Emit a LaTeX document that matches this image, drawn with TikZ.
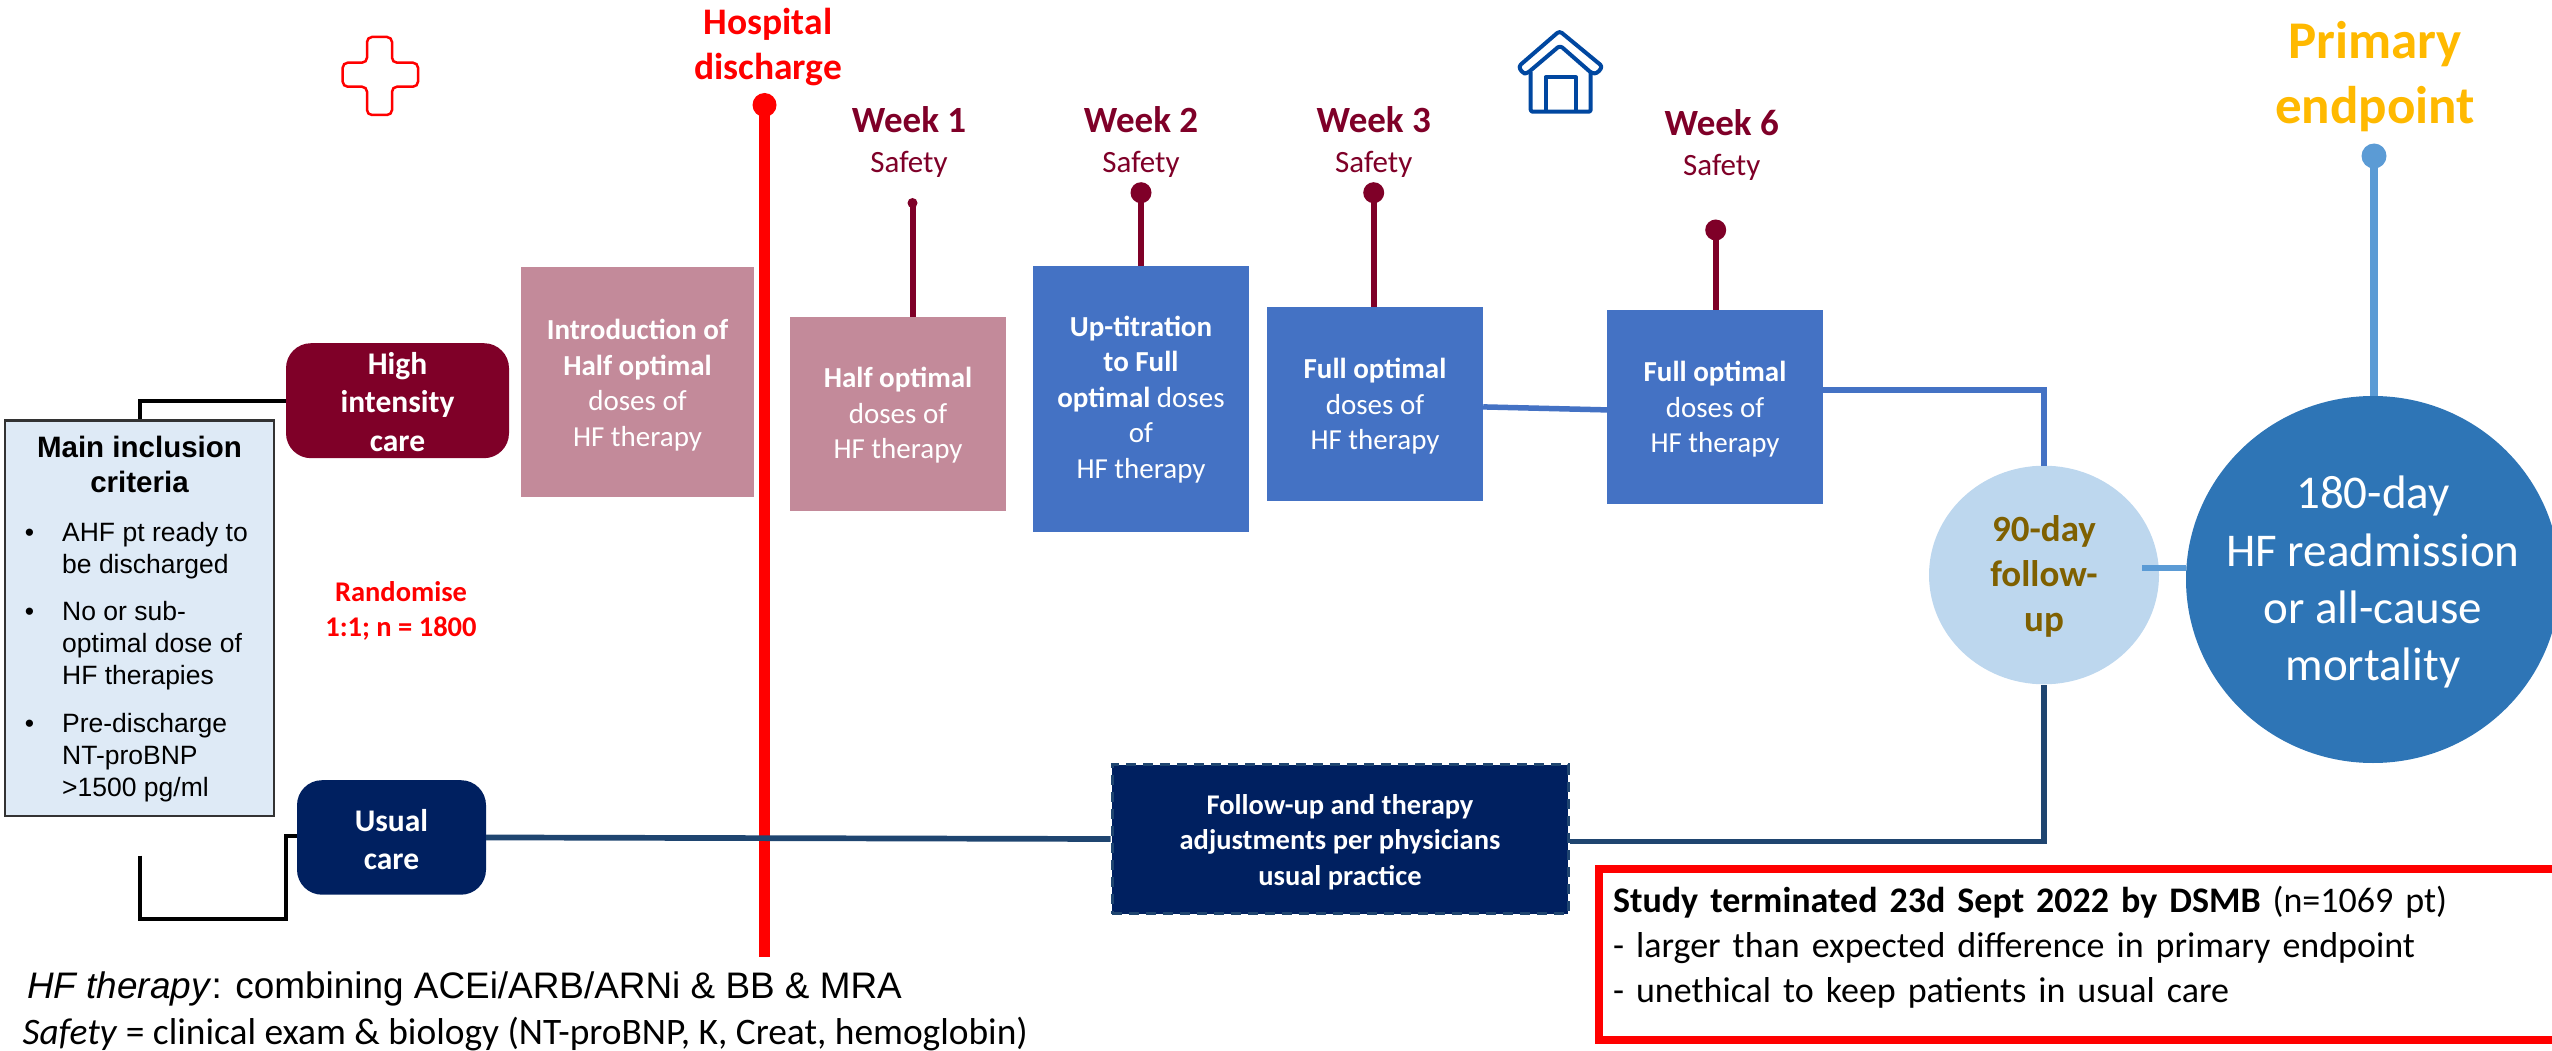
\documentclass[tikz,border=0pt]{standalone}
\usepackage{fontspec}
\setmainfont{Carlito}
\newfontfamily\arialf{Liberation Sans}
\usetikzlibrary{shapes.geometric}
\definecolor{maroon}{HTML}{7F0028}
\definecolor{pinkb}{HTML}{C38A9A}
\definecolor{blueb}{HTML}{4472C4}
\definecolor{navyb}{HTML}{002060}
\definecolor{navyl}{HTML}{1F4570}
\definecolor{lightb}{HTML}{DEEAF6}
\definecolor{skyb}{HTML}{5B9BD5}
\definecolor{paleb}{HTML}{BDD7EE}
\definecolor{bigb}{HTML}{2E75B6}
\definecolor{olive}{HTML}{7F6000}
\definecolor{gold}{HTML}{FFB900}
\definecolor{houseb}{HTML}{0047A0}
\newcommand{\fs}[2]{\fontsize{#1}{#2}\selectfont}
\tikzset{
  x=1pt,y=-1pt,
  box/.style={rectangle,inner sep=0pt,anchor=north,align=center,text=white},
  rbox/.style={box,rounded corners=25pt,fill=#1},
  txt/.style={inner sep=0pt,anchor=base,align=center},
  dot/.style={circle,inner sep=0pt,minimum size=#1},
  stalk/.style={line width=6pt,maroon},
  wk/.style={txt,text=maroon,font=\fs{37}{44}\bfseries},
  sf/.style={txt,text=maroon,font=\fs{31}{38}},
  cur/.style={font=\fs{29}{35.5}},
  bul/.style={inner sep=0pt,anchor=base west,align=left,font=\arialf\fs{26.5}{32}},
  icon/.style={line width=4pt,houseb,line join=round},
}
\begin{document}
\begin{tikzpicture}
\useasboundingbox (0,0) rectangle (2552,1051);
\clip (0,0) rectangle (2552,1051);

% cross icon
\draw[red,line width=2.5pt,rounded corners=5pt]
  (367,37) -- (392,37) -- (392,62.7) -- (418,62.7) -- (418,86.7) -- (392,86.7)
  -- (392,115) -- (367,115) -- (367,86.7) -- (342.7,86.7) -- (342.7,62.7) -- (367,62.7) -- cycle;

% house icon
\draw[icon,rounded corners=2pt] (1530.7,72) -- (1530.7,111.7) -- (1590.7,111.7) -- (1590.7,72);
\draw[icon,fill=white,rounded corners=3pt]
  (1559.5,31) -- (1602.5,66.5) -- (1597,73.5) -- (1592,73.5) -- (1560,45.5) -- (1527,73.5) -- (1523,73.5) -- (1518.5,66.5) -- cycle;
\draw[icon] (1545.5,111.7) -- (1545.5,77.5) -- (1576,77.5) -- (1576,111.7);

% titles
\node[txt,text=red,font=\fs{37.5}{45}\bfseries] (hosp) at (768,80) {Hospital\\discharge};
\node[txt,text=gold,font=\fs{53}{64.5}\bfseries] (prim) at (2375,123.5) {Primary\\endpoint};

% hospital discharge line
\node[dot=24pt,fill=red] (hdot) at (764.5,105) {};
\coordinate (hend) at (764.5,957);
\draw[red,line width=11pt] (hdot.center) -- (hend);

% inclusion box
\node[box,text=black,draw=black!80,line width=2.5pt,fill=lightb,minimum width=269pt,
  text height=72.5pt,text depth=323pt,font=\arialf\fs{29.5}{35}\bfseries] (incl) at (139.5,419) {Main inclusion\\criteria};
\node[bul] (b1) at (62,573) {\llap{•\hspace{28pt}}AHF pt ready to\\be discharged};
\node[bul] (b2) at (62,684.5) {\llap{•\hspace{28pt}}No or sub-\\optimal dose of\\HF therapies};
\node[bul] (b3) at (62,796.5) {\llap{•\hspace{28pt}}Pre-discharge\\NT-proBNP\\>1500 pg/ml};

% arms
\node[rbox=maroon,minimum width=223pt,text height=108pt,text depth=7pt,font=\fs{31.5}{38.5}\bfseries] (high) at (397.5,343) {High\\intensity\\care};
\node[rbox=navyb,minimum width=189pt,text height=89.5pt,text depth=25pt,font=\fs{31.5}{38.5}\bfseries] (usual) at (391.5,780) {Usual\\care};
\coordinate (c1) at (139.6,855.6);
\coordinate (c2) at (139.6,918.7);
\coordinate (c3) at (285.6,918.7);
\coordinate (c4) at (285.6,836);
\draw[black,line width=4pt] (incl.north) |- (high.west);
\draw[black,line width=4pt] (c1) -- (c2) -- (c3) -- (c4) -- (c4 -| usual.west);

\node[txt,text=red,font=\fs{28.5}{35}\bfseries] (rand) at (401,636.5) {Randomise\\1:1; n = 1800};

% therapy boxes
\node[box,fill=pinkb,minimum width=233pt,text height=179pt,text depth=51pt,cur] (intro) at (637.5,267) {\textbf{Introduction of}\\\textbf{Half optimal}\\doses of\\HF therapy};
\node[box,fill=pinkb,minimum width=216pt,text height=141.5pt,text depth=52.5pt,cur] (half) at (898,317) {\textbf{Half optimal}\\doses of\\HF therapy};
\node[box,fill=blueb,minimum width=216pt,text height=212pt,text depth=54pt,cur] (up) at (1141,266) {\textbf{Up-titration}\\\textbf{to Full}\\\textbf{optimal} doses\\of\\HF therapy};
\node[box,fill=blueb,minimum width=216pt,text height=142.5pt,text depth=51.5pt,cur] (wt) at (1375,307) {\textbf{Full optimal}\\doses of\\HF therapy};
\node[box,fill=blueb,minimum width=216pt,text height=142.5pt,text depth=51.5pt,cur] (ws) at (1715,310) {\textbf{Full optimal}\\doses of\\HF therapy};

% week labels
\node[wk] (w1) at (909,133) {Week 1};
\node[sf] (s1) at (909,173) {Safety};
\node[wk] (w2) at (1141,133) {Week 2};
\node[sf] (s2) at (1141,173) {Safety};
\node[wk] (w3) at (1373.7,133) {Week 3};
\node[sf] (s3) at (1373.7,173) {Safety};
\node[wk] (w6) at (1721.7,135.5) {Week 6};
\node[sf] (s6) at (1721.7,175.5) {Safety};

\node[dot=10pt,fill=maroon] (d1) at (912.5,203) {};
\node[dot=21pt,fill=maroon] (d2) at (1141,192.7) {};
\node[dot=21pt,fill=maroon] (d3) at (1373.7,192.7) {};
\node[dot=21pt,fill=maroon] (d6) at (1715.7,230) {};
\draw[stalk] (d1.center) -- (d1.center |- half.north);
\draw[stalk] (d2.center) -- (d2.center |- up.north);
\draw[stalk] (d3.center) -- (d3.center |- wt.north);
\draw[stalk] (d6.center) -- (d6.center |- ws.north);

% follow-up and endpoint
\node[ellipse,fill=paleb,inner sep=0pt,minimum width=230pt,minimum height=218.6pt,
  text=olive,align=center,text height=116.7pt,text depth=3.3pt,font=\fs{37}{45}\bfseries] (fol) at (2044,575) {90-day\\follow-\\up};
\node[ellipse,fill=bigb,inner sep=-60pt,minimum width=374pt,minimum height=367pt,
  text=white,align=center,text height=211pt,text depth=9pt,font=\fs{47}{57.2}] (big) at (2373,579.5) {180-day\\HF readmission\\or all-cause\\mortality};

\node[dot=25pt,fill=skyb] (pdot) at (2374,156) {};
\draw[skyb,line width=8pt] (pdot.center) -- (pdot.center |- big.north);
\draw[blueb,line width=5.5pt] ([yshift=-2.7pt]wt.east) -- ([yshift=-2.7pt]ws.west);
\draw[blueb,line width=6pt] ([yshift=17pt]ws.east) -| (fol.north);
\coordinate (fa) at ([shift={(-17pt,7.3pt)}]fol.east);
\draw[skyb,line width=5.7pt] (fa) -- (fa -| big.west);

% usual care path
\node[box,fill=navyb,draw=navyl,dash pattern=on 10pt off 7pt,line width=3pt,minimum width=456pt,
  text height=120.5pt,text depth=28.5pt,font=\fs{28.5}{35.2}\bfseries] (fu) at (1340,763) {Follow-up and therapy\\adjustments per physicians\\usual practice};
\draw[navyl,line width=5.7pt] (usual.east) -- (fu.west);
\draw[navyl,line width=5.7pt] ([yshift=-2.5pt]fu.east) -| (fol.south);

% termination notice
\node[rectangle,draw=red,line width=8pt,anchor=north west,inner xsep=14pt,inner ysep=0pt,
  text width=960pt,align=left,text height=43pt,text depth=128pt,font=\fs{36}{45}] (stop) at (1595,865)
  {\textbf{Study terminated 23d Sept 2022 by DSMB} (n=1069 pt)\\- larger than expected difference in primary endpoint\\- unethical to keep patients in usual care};

% footnotes
\node[inner sep=0pt,anchor=base west,font=\arialf\fs{36.9}{42}] (n1) at (27,998.5) {\textit{HF therapy}: combining ACEi/ARB/ARNi \& BB \& MRA};
\node[inner sep=0pt,anchor=base west,font=\fs{37.4}{42}] (n2) at (22.5,1044.5) {\textit{Safety} = clinical exam \& biology (NT-proBNP, K, Creat, hemoglobin)};
\end{tikzpicture}
\end{document}
